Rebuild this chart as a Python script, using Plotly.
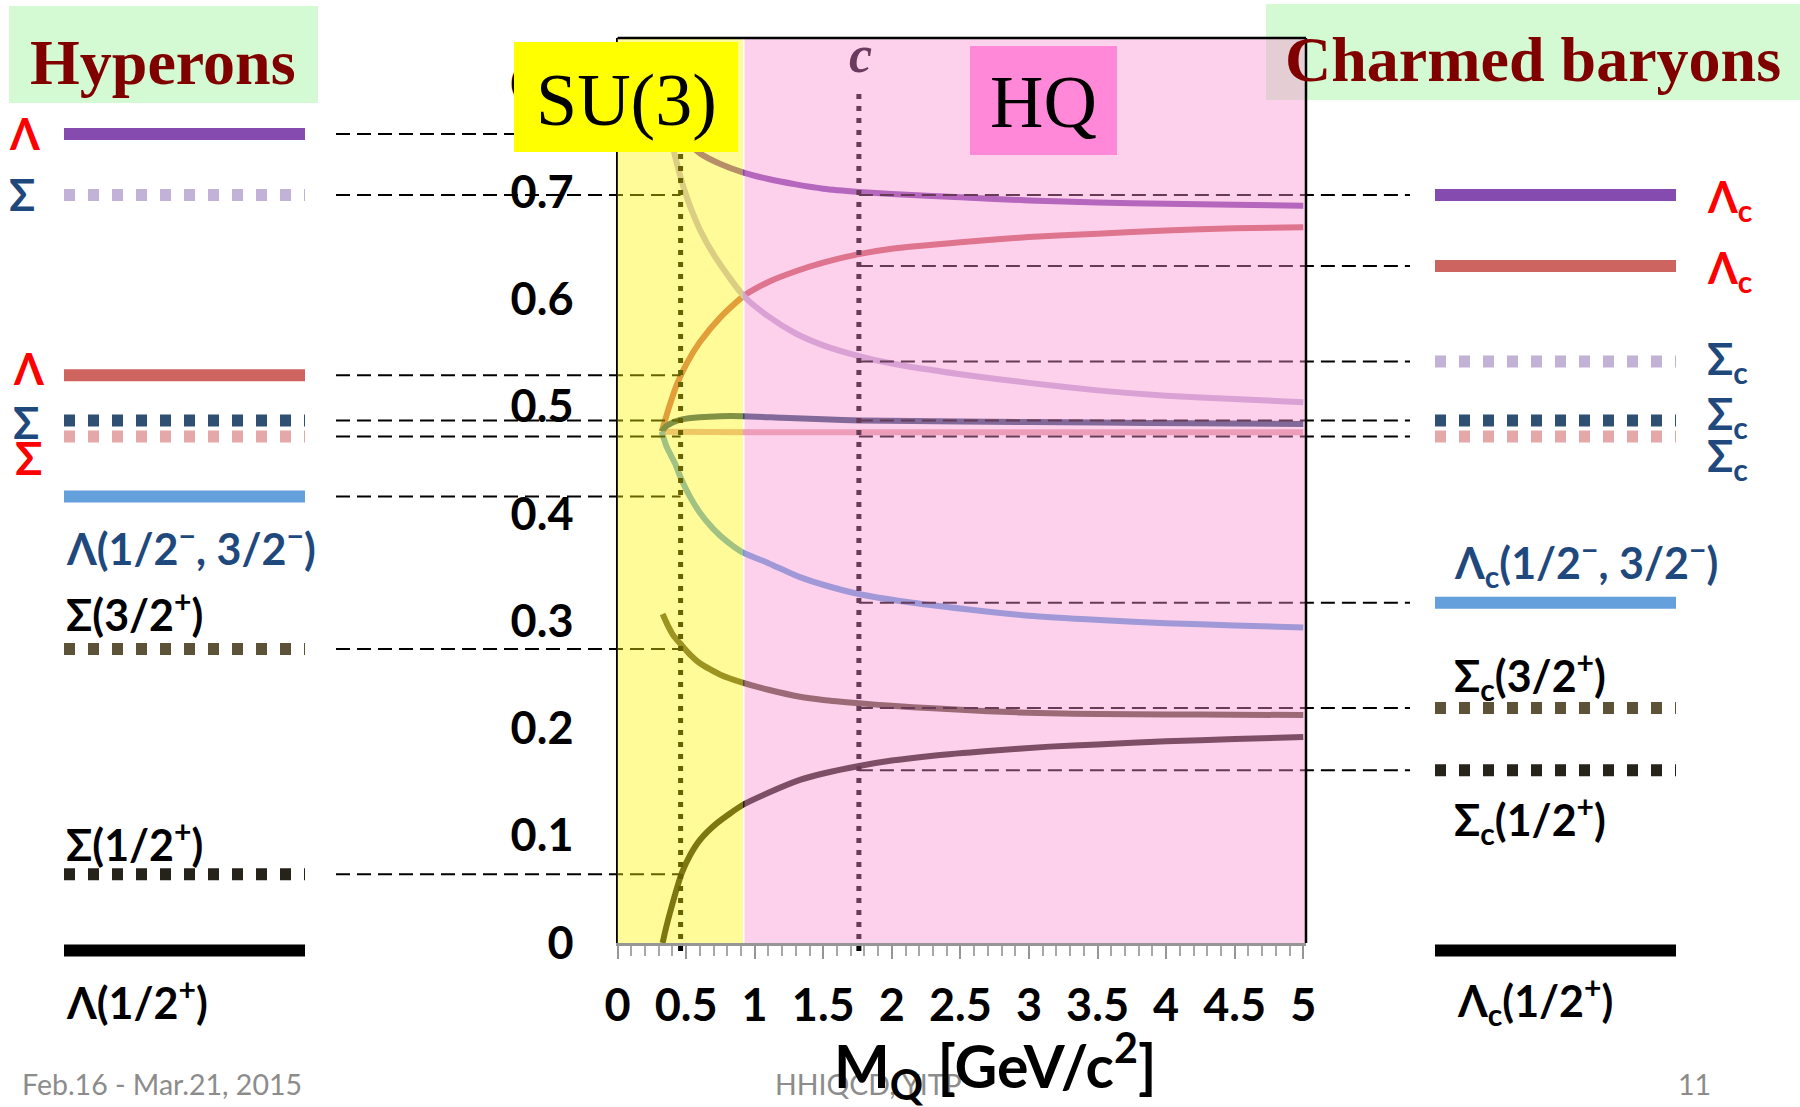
import plotly.graph_objects as go

# ---------------- data ----------------
# excitation energy (GeV) vs heavy-quark mass M_Q (GeV/c^2)
purple_x = [0.33, 0.4, 0.5, 0.6, 0.75, 0.92, 1.1, 1.3, 1.5, 1.76, 2.0, 2.5, 3.0, 3.5, 4.0, 4.5, 5.0]
purple_y = [0.80, 0.765, 0.748, 0.736, 0.726, 0.718, 0.712, 0.707, 0.703, 0.700, 0.698, 0.695, 0.692, 0.690, 0.689, 0.688, 0.687]

red_x = [0.322, 0.34, 0.37, 0.431, 0.504, 0.601, 0.75, 0.92, 1.1, 1.3, 1.5, 1.76, 2.0, 2.5, 3.0, 3.5, 4.0, 4.5, 5.0]
red_y = [0.4765, 0.484, 0.497, 0.520, 0.540, 0.560, 0.583, 0.603, 0.616, 0.626, 0.634, 0.642, 0.647, 0.653, 0.658, 0.661, 0.664, 0.666, 0.667]

lilac_x = [0.33, 0.36, 0.394, 0.426, 0.5, 0.6, 0.724, 0.92, 1.1, 1.3, 1.5, 1.76, 2.0, 2.5, 3.0, 3.5, 4.0, 4.5, 5.0]
lilac_y = [0.80, 0.772, 0.748, 0.730, 0.697, 0.665, 0.637, 0.603, 0.584, 0.568, 0.557, 0.547, 0.540, 0.530, 0.522, 0.515, 0.510, 0.507, 0.504]

darkblue_x = [0.322, 0.35, 0.38, 0.42, 0.47, 0.6, 0.75, 0.912, 1.2, 1.5, 1.77, 2.5, 3.52, 4.2, 5.0]
darkblue_y = [0.4765, 0.481, 0.4835, 0.486, 0.488, 0.490, 0.491, 0.491, 0.4895, 0.488, 0.487, 0.486, 0.485, 0.4843, 0.4837]

pinkflat_x = [0.322, 1.0, 2.0, 3.0, 4.0, 5.0]
pinkflat_y = [0.4765, 0.476, 0.476, 0.476, 0.476, 0.476]

lightblue_x = [0.322, 0.358, 0.419, 0.468, 0.528, 0.601, 0.698, 0.8, 0.912, 1.1, 1.33, 1.55, 1.767, 2.1, 2.545, 3.0, 3.517, 4.0, 4.5, 5.0]
lightblue_y = [0.4765, 0.4625, 0.447, 0.4315, 0.416, 0.401, 0.386, 0.374, 0.364, 0.354, 0.341, 0.332, 0.325, 0.318, 0.311, 0.305, 0.301, 0.298, 0.296, 0.294]

olive_x = [0.329, 0.37, 0.41, 0.456, 0.52, 0.601, 0.75, 0.912, 1.1, 1.33, 1.5, 1.762, 2.0, 2.3, 2.7, 3.15, 3.5, 4.0, 4.5, 5.0]
olive_y = [0.3066, 0.295, 0.286, 0.2793, 0.270, 0.2607, 0.250, 0.2426, 0.236, 0.2295, 0.2265, 0.2234, 0.221, 0.2187, 0.216, 0.214, 0.2135, 0.213, 0.2127, 0.2125]

dark_x = [0.329, 0.35, 0.395, 0.468, 0.53, 0.601, 0.723, 0.912, 1.1, 1.33, 1.5, 1.762, 2.0, 2.3, 2.7, 3.15, 3.5, 4.0, 4.5, 5.0]
dark_y = [0.0, 0.012, 0.034, 0.065, 0.082, 0.096, 0.1115, 0.1286, 0.140, 0.152, 0.158, 0.165, 0.170, 0.1746, 0.179, 0.183, 0.185, 0.188, 0.190, 0.192]

# level energies (GeV)
hyperon_levels = [0.754, 0.697, 0.529, 0.487, 0.472, 0.416, 0.274, 0.064, -0.007]
charm_levels = [0.697, 0.631, 0.542, 0.487, 0.472, 0.317, 0.219, 0.161, -0.007]

S_MASS = 0.46   # strange quark mass marker
C_MASS = 1.76   # charm quark mass marker

x_tickvals = [0, 0.5, 1, 1.5, 2, 2.5, 3, 3.5, 4, 4.5, 5]
x_ticktext = ["0", "0.5", "1", "1.5", "2", "2.5", "3", "3.5", "4", "4.5", "5"]
y_tickvals = [0, 0.1, 0.2, 0.3, 0.4, 0.5, 0.6, 0.7, 0.8]
y_ticktext = ["0", "0.1", "0.2", "0.3", "0.4", "0.5", "0.6", "0.7", "0.8"]

# ---------------- styles ----------------
C_PURPLE = "#854BAF"
C_RED = "#CD645F"
C_LILAC = "#C3B2D7"
C_DBLUE = "#2F5073"
C_PINK = "#E4A8A8"
C_LBLUE = "#64A0DC"
C_OLIVE = "#5B5238"
C_DARK = "#26231A"

level_colors = [C_PURPLE, C_LILAC, C_RED, C_DBLUE, C_PINK, C_LBLUE, C_OLIVE, C_DARK, "#000000"]
hyper_dotted = [False, True, False, True, True, False, True, True, False]
charm_colors = [C_PURPLE, C_RED, C_LILAC, C_DBLUE, C_PINK, C_LBLUE, C_OLIVE, C_DARK, "#000000"]
charm_dotted = [False, False, True, True, True, False, True, True, False]

curves = [
    (purple_x, purple_y, C_PURPLE),
    (red_x, red_y, C_RED),
    (lilac_x, lilac_y, C_LILAC),
    (pinkflat_x, pinkflat_y, C_PINK),
    (darkblue_x, darkblue_y, C_DBLUE),
    (lightblue_x, lightblue_y, C_LBLUE),
    (olive_x, olive_y, C_OLIVE),
    (dark_x, dark_y, C_DARK),
]

# ---------------- geometry (pixels) ----------------
W, H = 1800, 1107
PL, PR, PT, PB = 617.5, 1306.0, 38.0, 943.0
X_MAX = 5.02
Y_MAX = 0.8434
PPX = (PR - PL) / X_MAX
PPY = (PB - PT) / Y_MAX


def px_x(p):
    return (p - PL) / PPX


def fx(p):
    return p / W


def fy(p):
    return 1 - p / H


SANS = "Lato, Noto Sans, DejaVu Sans"
SERIF = "Liberation Serif, DejaVu Serif"

fig = go.Figure()

for xs, ys, col in curves:
    fig.add_trace(go.Scatter(x=xs, y=ys, mode="lines", xaxis="x", yaxis="y",
                             line=dict(color=col, width=6, shape="spline", smoothing=0.6),
                             hoverinfo="skip", showlegend=False))

# connectors (dashed)
for lv in hyperon_levels:
    if lv > 0:
        fig.add_trace(go.Scatter(x=[px_x(336), S_MASS], y=[lv, lv], mode="lines", xaxis="x2", yaxis="y2",
                                 line=dict(color="black", width=2, dash="14px,7px"),
                                 hoverinfo="skip", showlegend=False))
for lv in charm_levels:
    if lv > 0:
        fig.add_trace(go.Scatter(x=[C_MASS, px_x(1410)], y=[lv, lv], mode="lines", xaxis="x2", yaxis="y2",
                                 line=dict(color="black", width=2, dash="14px,7px"),
                                 hoverinfo="skip", showlegend=False))

# vertical dotted mass markers
for m in (S_MASS, C_MASS):
    fig.add_trace(go.Scatter(x=[m, m], y=[-0.0075, 0.792], mode="lines", xaxis="x2", yaxis="y2",
                             line=dict(color="black", width=5, dash="5px,7px"),
                             hoverinfo="skip", showlegend=False))

# level bars
for lv, col, dot in zip(hyperon_levels, level_colors, hyper_dotted):
    fig.add_trace(go.Scatter(x=[px_x(64), px_x(305)], y=[lv, lv], mode="lines", xaxis="x2", yaxis="y2",
                             line=dict(color=col, width=12, dash="11px,13px" if dot else "solid"),
                             hoverinfo="skip", showlegend=False))
for lv, col, dot in zip(charm_levels, charm_colors, charm_dotted):
    fig.add_trace(go.Scatter(x=[px_x(1435), px_x(1676)], y=[lv, lv], mode="lines", xaxis="x2", yaxis="y2",
                             line=dict(color=col, width=12, dash="11px,13px" if dot else "solid"),
                             hoverinfo="skip", showlegend=False))

shapes = [
    dict(type="rect", xref="paper", yref="paper", x0=fx(9), x1=fx(318), y0=fy(103), y1=fy(6),
         fillcolor="#D4FAD4", line=dict(width=0), layer="above"),
    dict(type="rect", xref="paper", yref="paper", x0=fx(1266), x1=fx(1800), y0=fy(100), y1=fy(4),
         fillcolor="#D4FAD4", line=dict(width=0), layer="above"),
    dict(type="rect", xref="x", yref="y", x0=-0.05, x1=0.915, y0=0, y1=Y_MAX,
         fillcolor="rgba(255,245,0,0.40)", line=dict(width=0), layer="above"),
    dict(type="rect", xref="x", yref="y", x0=0.926, x1=X_MAX, y0=0, y1=Y_MAX,
         fillcolor="rgba(250,140,210,0.41)", line=dict(width=0), layer="above"),
    dict(type="line", xref="x domain", yref="y domain", x0=0, x1=1, y0=1, y1=1,
         line=dict(color="black", width=2.5), layer="above"),
    dict(type="line", xref="x domain", yref="y domain", x0=1, x1=1, y0=0, y1=1,
         line=dict(color="black", width=2.5), layer="above"),
    dict(type="rect", xref="paper", yref="paper", x0=fx(514), x1=fx(738), y0=fy(152), y1=fy(42),
         fillcolor="#FFFF00", line=dict(width=0), layer="above"),
    dict(type="rect", xref="paper", yref="paper", x0=fx(970), x1=fx(1117), y0=fy(155), y1=fy(46),
         fillcolor="#FF88D8", line=dict(width=0), layer="above"),
]

RED = "#FF0000"
BLUE = "#1F497D"
annotations = []


def ann(text, x, y, size, color, family=SANS, xanchor="center", yanchor="middle"):
    annotations.append(dict(text=text, x=fx(x), y=fy(y), xref="paper", yref="paper",
                            showarrow=False, xanchor=xanchor, yanchor=yanchor,
                            font=dict(family=family, size=size, color=color)))


# footer (behind axis title)
ann("Feb.16 - Mar.21, 2015", 20, 1084, 28.5, "#8C8C8C", xanchor="left")
ann("HHIQCD, YITP", 868, 1084, 28.5, "#8C8C8C")
ann("11", 1694, 1084, 28.5, "#8C8C8C")

# titles
ann("<b>Hyperons</b>", 163, 62, 64, "#800000", family=SERIF)
ann("<b>Charmed baryons</b>", 1533, 60, 64, "#800000", family=SERIF)
ann("SU(3)", 626, 100, 74, "black", family=SERIF)
ann("HQ", 1043, 102, 74, "black", family=SERIF)
ann("<b><i>c</i></b>", 860, 55, 52, "#6B3A5E", family=SERIF)

# left labels
ann("<b>Λ</b>", 25, 133, 43, RED)
ann("<b>Σ</b>", 22, 194, 43, BLUE)
ann("<b>Λ</b>", 29, 369, 43, RED)
ann("<b>Σ</b>", 26, 423, 43, BLUE)
ann("<b>Σ</b>", 29, 458, 45, RED)
ann("<b>Λ(1/2<sup>−</sup>, 3/2<sup>−</sup>)</b>", 64, 545, 43, BLUE, xanchor="left")
ann("<b>Σ(3/2<sup>+</sup>)</b>", 64, 611, 43, "black", xanchor="left")
ann("<b>Σ(1/2<sup>+</sup>)</b>", 64, 841, 43, "black", xanchor="left")
ann("<b>Λ(1/2<sup>+</sup>)</b>", 64, 999, 43, "black", xanchor="left")

# right labels
ann("<b>Λ<sub>c</sub></b>", 1705, 199, 43, RED, xanchor="left")
ann("<b>Λ<sub>c</sub></b>", 1705, 270, 43, RED, xanchor="left")
ann("<b>Σ<sub>c</sub></b>", 1705, 361, 43, BLUE, xanchor="left")
ann("<b>Σ<sub>c</sub></b>", 1705, 416, 43, BLUE, xanchor="left")
ann("<b>Σ<sub>c</sub></b>", 1705, 459, 43, BLUE, xanchor="left")
ann("<b>Λ<sub>c</sub>(1/2<sup>−</sup>, 3/2<sup>−</sup>)</b>", 1452, 562, 43, BLUE, xanchor="left")
ann("<b>Σ<sub>c</sub>(3/2<sup>+</sup>)</b>", 1452, 675, 43, "black", xanchor="left")
ann("<b>Σ<sub>c</sub>(1/2<sup>+</sup>)</b>", 1452, 819, 43, "black", xanchor="left")
ann("<b>Λ<sub>c</sub>(1/2<sup>+</sup>)</b>", 1455, 1000, 43, "black", xanchor="left")

# axis title
ann("<b>M<sub>Q</sub> [GeV/c<sup>2</sup>]</b>", 995, 1065, 59, "black")

fig.update_layout(
    width=W, height=H, autosize=False,
    margin=dict(l=0, r=0, t=0, b=0, pad=0, autoexpand=False),
    paper_bgcolor="white", plot_bgcolor="rgba(0,0,0,0)",
    showlegend=False,
    xaxis=dict(domain=[PL / W, PR / W], range=[0, X_MAX], anchor="y", automargin=False,
               tickmode="array", tickvals=x_tickvals, ticktext=x_ticktext,
               ticks="outside", ticklen=13, tickwidth=2, tickcolor="#969696",
               minor=dict(dtick=0.1, tick0=0, ticks="outside", ticklen=10, tickwidth=2, tickcolor="#A8A8A8"),
               showline=True, linecolor="#969696", linewidth=3,
               showgrid=False, zeroline=False,
               tickfont=dict(family=SANS, size=45, color="black", weight=700),
               ticklabelstandoff=8, fixedrange=True),
    yaxis=dict(domain=[1 - PB / H, 1 - PT / H], range=[0, Y_MAX], anchor="x", automargin=False,
               tickmode="array", tickvals=y_tickvals, ticktext=y_ticktext,
               ticks="", showline=True, linecolor="black", linewidth=2,
               showgrid=False, zeroline=False,
               tickfont=dict(family=SANS, size=45, color="black", weight=700),
               ticklabelstandoff=33, fixedrange=True),
    xaxis2=dict(domain=[0, 1], range=[px_x(0), px_x(W)], anchor="y2", visible=False,
                automargin=False, fixedrange=True),
    yaxis2=dict(domain=[0, 1], range=[(PB - H) / PPY, PB / PPY], anchor="x2", visible=False,
                automargin=False, fixedrange=True),
    shapes=shapes,
    annotations=annotations,
)

fig.write_html("out.html", config={"displayModeBar": False})
